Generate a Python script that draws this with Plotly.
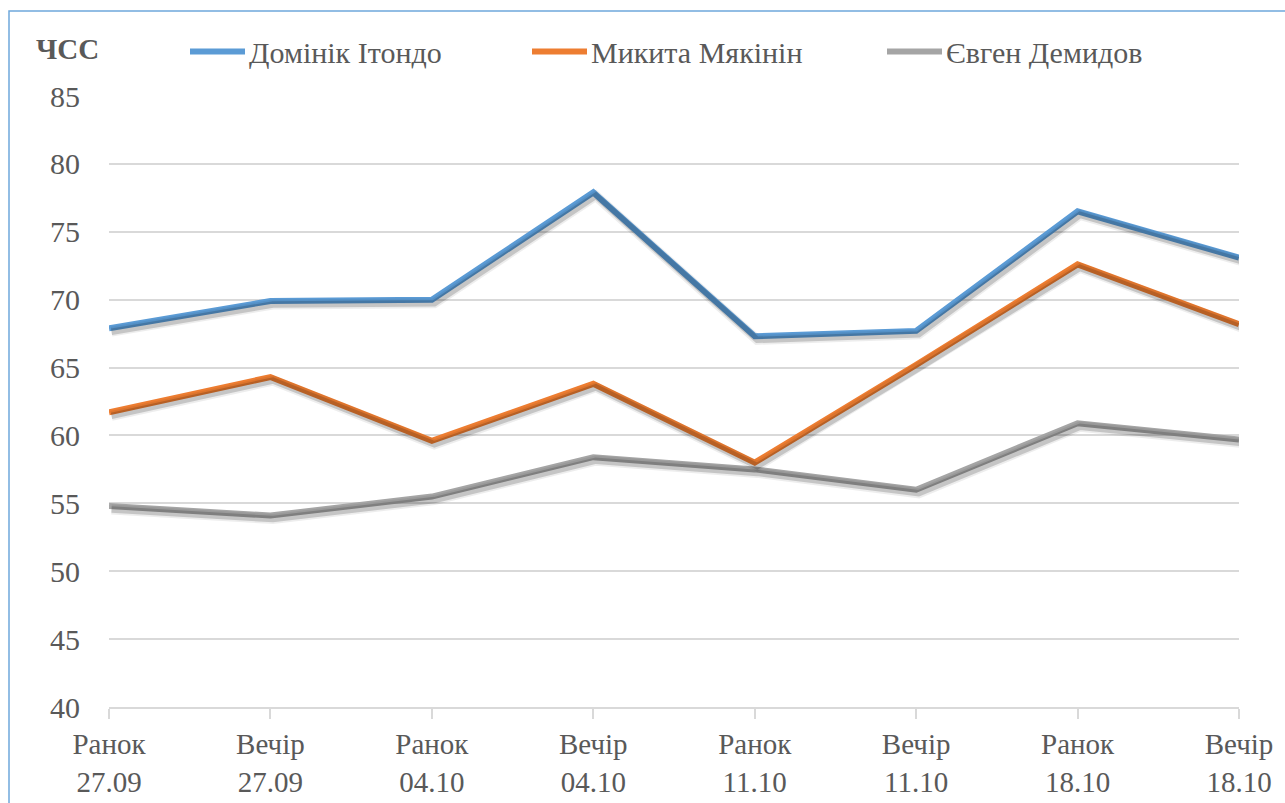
import plotly.graph_objects as go

categories = ["Ранок<br>27.09", "Вечір<br>27.09", "Ранок<br>04.10", "Вечір<br>04.10",
              "Ранок<br>11.10", "Вечір<br>11.10", "Ранок<br>18.10", "Вечір<br>18.10"]
series_names = ["Домінік Ітондо", "Микита Мякінін", "Євген Демидов"]
itondo = [67.9, 69.9, 70.0, 77.9, 67.3, 67.7, 76.5, 73.1]
miakinin = [61.7, 64.3, 59.6, 63.8, 58.0, 65.2, 72.6, 68.2]
demydov = [54.8, 54.1, 55.5, 58.4, 57.5, 56.0, 60.9, 59.7]
y_ticks = [40, 45, 50, 55, 60, 65, 70, 75, 80, 85]
y_title = "ЧСС"

colors = ["#5B9BD5", "#ED7D31", "#A5A5A5"]
FONT = "Liberation Serif, DejaVu Serif, serif"
TXT = "#595959"

W, H = 1285, 803
L, R, T, B = 109, 46, 96, 96
pw, ph = W - L - R, H - T - B
ymin, ymax = 40, 85
xr = [0, len(categories) - 1]

# shadow offsets (in pixels) converted to axis units
dx = 2.5 * (xr[1] - xr[0]) / pw
dy = 3.5 * (ymax - ymin) / ph

fig = go.Figure()
all_series = [itondo, miakinin, demydov]
x_idx = list(range(len(categories)))
for w_, a_ in [(10, 0.07), (6.5, 0.17)]:
    for vals in all_series:
        fig.add_trace(go.Scatter(x=x_idx, y=vals, mode="lines", xaxis="x2", yaxis="y2",
                                 line=dict(color=f"rgba(0,0,0,{a_})", width=w_),
                                 showlegend=False, hoverinfo="skip"))
for name, vals, c in zip(series_names, all_series, colors):
    fig.add_trace(go.Scatter(x=x_idx, y=vals, mode="lines", name=name,
                             line=dict(color=c, width=6), showlegend=False))

def px_x(p):
    return (p - L) / pw

def px_y(p):
    return (H - B - p) / ph

shapes = [dict(type="rect", xref="paper", yref="paper",
               x0=px_x(9), x1=px_x(W + 5), y0=px_y(H + 5), y1=px_y(11),
               line=dict(color="#6FA8DC", width=1.5), layer="below")]
annotations = [dict(text=f"<b>{y_title}</b>", xref="paper", yref="paper",
                    x=px_x(34), y=px_y(49), xanchor="left", yanchor="middle",
                    showarrow=False, font=dict(family=FONT, size=29, color=TXT))]

legend_starts = [190, 532, 887]
for name, c, sx in zip(series_names, colors, legend_starts):
    shapes.append(dict(type="line", xref="paper", yref="paper",
                       x0=px_x(sx), x1=px_x(sx + 55), y0=px_y(51.5), y1=px_y(51.5),
                       line=dict(color=c, width=6)))
    annotations.append(dict(text=name, xref="paper", yref="paper",
                            x=px_x(sx + 57), y=px_y(52), xanchor="left", yanchor="middle",
                            showarrow=False, font=dict(family=FONT, size=30, color=TXT)))

fig.update_layout(
    width=W, height=H,
    margin=dict(l=L, r=R, t=T, b=B),
    paper_bgcolor="white", plot_bgcolor="white",
    font=dict(family=FONT, color=TXT),
    showlegend=False,
    shapes=shapes, annotations=annotations,
    xaxis=dict(range=xr, tickmode="array", tickvals=x_idx, ticktext=categories,
               showgrid=False, zeroline=False, showline=True, linecolor="#D9D9D9", linewidth=2,
               ticks="outside", ticklen=10, tickwidth=2, tickcolor="#D9D9D9",
               automargin=False,
               tickfont=dict(family=FONT, size=29, color=TXT)),
    yaxis=dict(range=[ymin, ymax], tickmode="array", tickvals=y_ticks,
               showgrid=True, gridcolor="#D9D9D9", gridwidth=1.5, zeroline=False,
               showline=False, ticks="", ticklabelstandoff=28, automargin=False,
               tickfont=dict(family=FONT, size=30, color=TXT)),
    xaxis2=dict(range=[xr[0] - dx, xr[1] - dx], overlaying="x", visible=False),
    yaxis2=dict(range=[ymin + dy, ymax + dy], overlaying="y", visible=False),
)

fig.write_html("out.html")
